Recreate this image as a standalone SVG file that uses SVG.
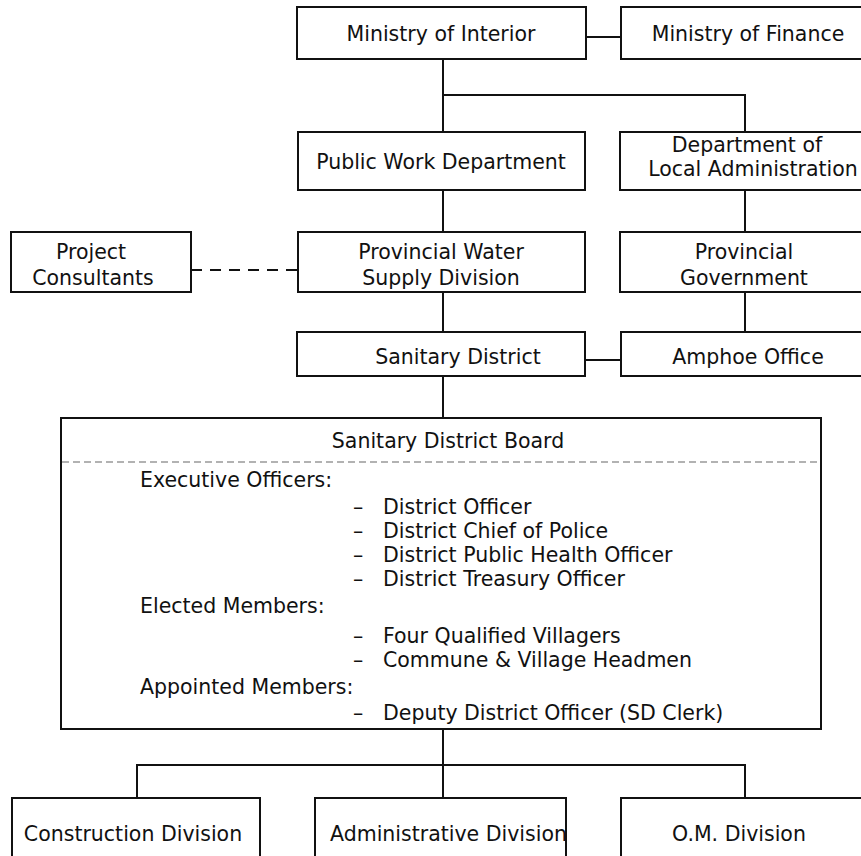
<svg xmlns="http://www.w3.org/2000/svg" width="861" height="856" viewBox="0 0 861 856">
<style>
  .box { fill: #ffffff; stroke: #111111; stroke-width: 2; }
  .lbl { font-family: "DejaVu Sans", "Liberation Sans", Arial, sans-serif; font-size: 20.5px; fill: #111111; }
  .c { text-anchor: middle; }
  .ln { fill: none; stroke: #111111; stroke-width: 2; }
  .dash { fill: none; stroke: #111111; stroke-width: 2; stroke-dasharray: 11 8; }
  .div { fill: none; stroke: #666666; stroke-width: 1.2; stroke-dasharray: 7 4; }
</style>
<rect x="0" y="0" width="861" height="856" fill="#ffffff"/>

<g id="connectors">
  <line class="ln" x1="586" y1="37" x2="621" y2="37"/>
  <polyline class="ln" points="443,59 443,132"/>
  <polyline class="ln" points="443,95 745,95 745,132"/>
  <line class="ln" x1="443" y1="190" x2="443" y2="232"/>
  <line class="ln" x1="745" y1="190" x2="745" y2="232"/>
  <line class="dash" x1="191" y1="270" x2="298" y2="270"/>
  <line class="ln" x1="443" y1="292" x2="443" y2="332"/>
  <line class="ln" x1="745" y1="292" x2="745" y2="332"/>
  <line class="ln" x1="585" y1="360" x2="621" y2="360"/>
  <line class="ln" x1="443" y1="376" x2="443" y2="418"/>
  <line class="ln" x1="443" y1="729" x2="443" y2="798"/>
  <polyline class="ln" points="137,798 137,765 745,765 745,798"/>
</g>

<g id="ministry-interior">
  <rect class="box" x="297" y="7" width="289" height="52"/>
  <text class="lbl c" x="441" y="41">Ministry of Interior</text>
</g>
<g id="ministry-finance">
  <rect class="box" x="621" y="7" width="250" height="52"/>
  <text class="lbl c" x="748" y="41">Ministry of Finance</text>
</g>

<g id="public-work">
  <rect class="box" x="298" y="132" width="287" height="58"/>
  <text class="lbl c" x="441" y="169">Public Work Department</text>
</g>
<g id="local-admin">
  <rect class="box" x="620" y="132" width="251" height="58"/>
  <text class="lbl c" x="747" y="152">Department of</text>
  <text class="lbl c" x="753" y="176">Local Administration</text>
</g>

<g id="project-consultants">
  <rect class="box" x="11" y="232" width="180" height="60"/>
  <text class="lbl c" x="91" y="259">Project</text>
  <text class="lbl c" x="93" y="285">Consultants</text>
</g>
<g id="provincial-water">
  <rect class="box" x="298" y="232" width="287" height="60"/>
  <text class="lbl c" x="441" y="259">Provincial Water</text>
  <text class="lbl c" x="441" y="285">Supply Division</text>
</g>
<g id="provincial-government">
  <rect class="box" x="620" y="232" width="251" height="60"/>
  <text class="lbl c" x="744" y="259">Provincial</text>
  <text class="lbl c" x="744" y="285">Government</text>
</g>

<g id="sanitary-district">
  <rect class="box" x="297" y="332" width="288" height="44"/>
  <text class="lbl c" x="458" y="364">Sanitary District</text>
</g>
<g id="amphoe-office">
  <rect class="box" x="621" y="332" width="250" height="44"/>
  <text class="lbl c" x="748" y="364">Amphoe Office</text>
</g>

<g id="sanitary-district-board">
  <rect class="box" x="61" y="418" width="760" height="311"/>
  <text class="lbl c" x="448" y="448">Sanitary District Board</text>
  <line class="div" x1="62" y1="462" x2="820" y2="462"/>
  <text class="lbl" x="140" y="487">Executive Officers:</text>
  <text class="lbl" x="353" y="514">–</text><text class="lbl" x="383" y="514">District Officer</text>
  <text class="lbl" x="353" y="538">–</text><text class="lbl" x="383" y="538">District Chief of Police</text>
  <text class="lbl" x="353" y="562">–</text><text class="lbl" x="383" y="562">District Public Health Officer</text>
  <text class="lbl" x="353" y="586">–</text><text class="lbl" x="383" y="586">District Treasury Officer</text>
  <text class="lbl" x="140" y="613">Elected Members:</text>
  <text class="lbl" x="353" y="643">–</text><text class="lbl" x="383" y="643">Four Qualified Villagers</text>
  <text class="lbl" x="353" y="667">–</text><text class="lbl" x="383" y="667">Commune &amp; Village Headmen</text>
  <text class="lbl" x="140" y="694">Appointed Members:</text>
  <text class="lbl" x="353" y="720">–</text><text class="lbl" x="383" y="720">Deputy District Officer (SD Clerk)</text>
</g>

<g id="construction-division">
  <rect class="box" x="12" y="798" width="248" height="70"/>
  <text class="lbl c" x="133" y="841">Construction Division</text>
</g>
<g id="administrative-division">
  <rect class="box" x="315" y="798" width="251" height="70"/>
  <text class="lbl" x="330" y="841">Administrative Division</text>
</g>
<g id="om-division">
  <rect class="box" x="621" y="798" width="250" height="70"/>
  <text class="lbl c" x="739" y="841">O.M. Division</text>
</g>
</svg>
